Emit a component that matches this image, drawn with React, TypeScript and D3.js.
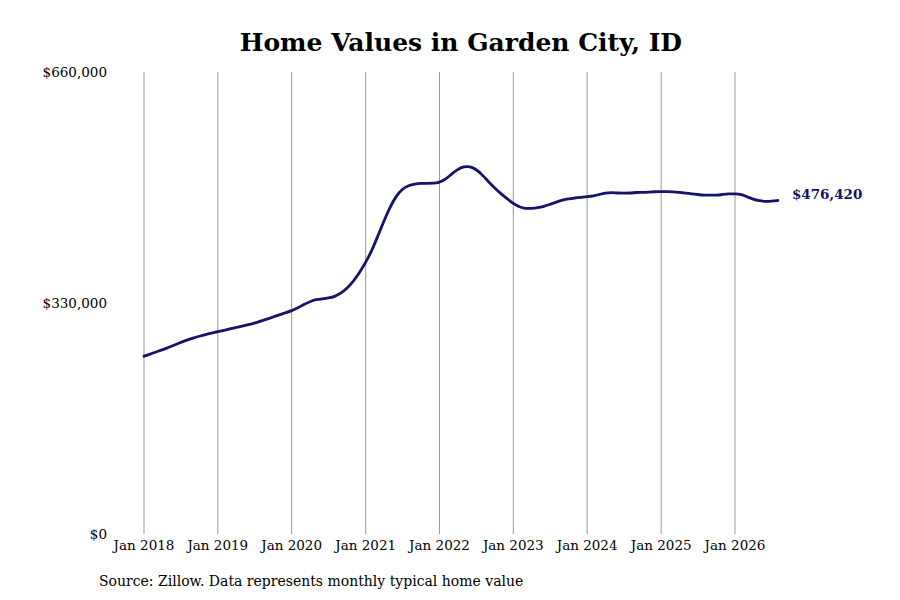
import { useEffect, useRef } from 'react';
import * as d3 from 'd3';

// monthly typical home value (thousands of USD), Jan 2018 .. Aug 2026
const startYear = 2018;
const values = [
  254, 257, 260, 263, 266.5, 270, 273.5, 277, 280, 282.5, 285, 287,
  289, 291, 293, 295, 297, 299, 301, 304, 307, 310, 313, 316,
  319, 323, 328, 332, 335, 336, 337, 339, 344, 351, 361, 373,
  388, 405, 425, 447, 467, 483, 493, 498, 500, 501, 501, 501,
  502, 507, 514, 521, 525, 525, 521, 513, 503, 494, 486, 479,
  472, 467, 465, 465, 466, 468, 471, 474, 477, 479, 480, 481,
  482, 483, 485, 487, 488, 487, 487, 487, 488, 488, 488.5, 489,
  489, 489, 489, 488, 487, 486, 485, 484, 484, 484, 485, 486,
  486, 485, 482, 478, 476, 475, 475.5, 476.42,
];
const yTicks = [0, 330000, 660000];
const xTickYears = [2018, 2019, 2020, 2021, 2022, 2023, 2024, 2025, 2026];
const title = 'Home Values in Garden City, ID';
const source = 'Source: Zillow. Data represents monthly typical home value';

const lineColor = '#16136a';
const font = '"DejaVu Serif", serif';

export default function App() {
  const svgRef = useRef<SVGSVGElement>(null);

  useEffect(() => {
    if (!svgRef.current) return;
    const height = 600;
    const margin = { top: 72, left: 144, bottom: 66 };

    const svg = d3.select(svgRef.current);
    svg.selectAll('*').remove();

    const data = values.map((v, i) => ({ date: new Date(startYear, i, 1), value: v * 1000 }));

    const x = d3.scaleTime()
      .domain([new Date(2018, 0, 1), new Date(2026, 0, 1)])
      .range([margin.left, 735]);

    const y = d3.scaleLinear()
      .domain([0, 660000])
      .range([height - margin.bottom, margin.top]);

    // vertical grid lines
    svg.append('g')
      .selectAll('line')
      .data(xTickYears)
      .enter()
      .append('line')
      .attr('x1', d => x(new Date(d, 0, 1)))
      .attr('x2', d => x(new Date(d, 0, 1)))
      .attr('y1', y(660000))
      .attr('y2', y(0))
      .attr('stroke', '#999')
      .attr('stroke-width', 1);

    // x labels
    svg.append('g')
      .selectAll('text')
      .data(xTickYears)
      .enter()
      .append('text')
      .attr('x', d => x(new Date(d, 0, 1)))
      .attr('y', y(0) + 16)
      .attr('text-anchor', 'middle')
      .style('font-family', font)
      .style('font-size', '13.5px')
      .text(d => `Jan ${d}`);

    // y labels
    svg.append('g')
      .selectAll('text')
      .data(yTicks)
      .enter()
      .append('text')
      .attr('x', 107)
      .attr('y', d => y(d) + 5)
      .attr('text-anchor', 'end')
      .style('font-family', font)
      .style('font-size', '13.5px')
      .text(d => d3.format('$,')(d));

    const line = d3.line<{ date: Date; value: number }>()
      .x(d => x(d.date))
      .y(d => y(d.value))
      .curve(d3.curveBasis);

    svg.append('path')
      .datum(data)
      .attr('fill', 'none')
      .attr('stroke', lineColor)
      .attr('stroke-width', 2.8)
      .attr('stroke-linecap', 'round')
      .attr('d', line);

    const last = data[data.length - 1];
    svg.append('text')
      .attr('x', x(last.date) + 14)
      .attr('y', y(last.value) - 5)
      .attr('dominant-baseline', 'middle')
      .style('font-family', font)
      .style('font-size', '13.5px')
      .style('font-weight', 'bold')
      .attr('fill', lineColor)
      .text(d3.format('$,')(Math.round(last.value)));

    const plotCenter = (x(data[0].date) + x(last.date)) / 2;
    svg.append('text')
      .attr('x', plotCenter)
      .attr('y', 51)
      .attr('text-anchor', 'middle')
      .style('font-family', font)
      .style('font-size', '25px')
      .style('font-weight', 'bold')
      .text(title);

    svg.append('text')
      .attr('x', 99)
      .attr('y', 586)
      .style('font-family', font)
      .style('font-size', '14px')
      .text(source);
  }, []);

  return (
    <div style={{ position: 'absolute', left: 0, top: 0, background: '#fff' }}>
      <svg ref={svgRef} width={900} height={600}></svg>
    </div>
  );
}
